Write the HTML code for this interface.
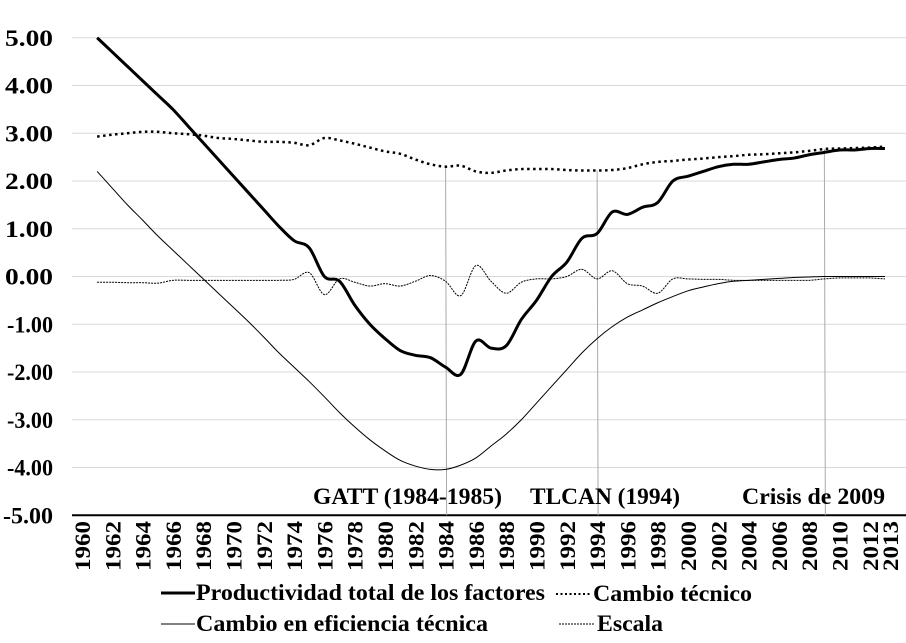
<!DOCTYPE html>
<html><head><meta charset="utf-8">
<style>
html,body{margin:0;padding:0;background:#fff;}
svg{display:block;font-family:"Liberation Serif",serif;font-weight:bold;}
</style></head>
<body>
<svg id="chart" width="906" height="643" viewBox="0 0 906 643" xmlns="http://www.w3.org/2000/svg">
<g id="grid"></g>
<g id="yticks"></g>
<g id="markers"></g>
<g font-size="23">
  <text x="313" y="504" textLength="189" lengthAdjust="spacingAndGlyphs">GATT (1984-1985)</text>
  <text x="530" y="504" textLength="150" lengthAdjust="spacingAndGlyphs">TLCAN (1994)</text>
  <text x="742" y="504" textLength="143" lengthAdjust="spacingAndGlyphs">Crisis de 2009</text>
</g>
<g id="series"></g>
<g id="xticks"></g>
<g font-size="23">
  <line x1="161" y1="593" x2="195" y2="593" stroke="#000" stroke-width="3"/>
  <text x="196" y="600" textLength="349" lengthAdjust="spacingAndGlyphs">Productividad total de los factores</text>
  <line x1="556" y1="594" x2="590" y2="594" stroke="#000" stroke-width="2" stroke-dasharray="2,2.5"/>
  <text x="593" y="601" textLength="159" lengthAdjust="spacingAndGlyphs">Cambio técnico</text>
  <line x1="161" y1="624" x2="195" y2="624" stroke="#000" stroke-width="1"/>
  <text x="196" y="631" textLength="292" lengthAdjust="spacingAndGlyphs">Cambio en eficiencia técnica</text>
  <line x1="559" y1="624" x2="594" y2="624" stroke="#000" stroke-width="1" stroke-dasharray="2,1"/>
  <text x="597" y="631" textLength="66" lengthAdjust="spacingAndGlyphs">Escala</text>
</g>
</svg>
<script>
const years = [];
for (let y = 1961; y <= 2013; y++) years.push(y);
const tfp = [5.0,4.7,4.4,4.1,3.8,3.5,3.15,2.8,2.45,2.1,1.75,1.4,1.05,0.75,0.6,0.0,-0.1,-0.6,-1.0,-1.3,-1.55,-1.65,-1.7,-1.9,-2.05,-1.35,-1.5,-1.45,-0.9,-0.5,0.0,0.3,0.8,0.9,1.35,1.3,1.45,1.55,2.0,2.1,2.2,2.3,2.35,2.35,2.4,2.45,2.48,2.55,2.6,2.65,2.65,2.68,2.68];
const tech = [2.93,2.97,3.0,3.03,3.03,3.0,2.98,2.95,2.9,2.88,2.85,2.82,2.82,2.8,2.75,2.9,2.85,2.78,2.7,2.62,2.57,2.45,2.35,2.3,2.32,2.2,2.17,2.22,2.25,2.25,2.25,2.23,2.22,2.22,2.23,2.27,2.35,2.4,2.42,2.45,2.47,2.5,2.52,2.55,2.56,2.58,2.6,2.63,2.67,2.68,2.69,2.7,2.72];
const eff = [2.2,1.85,1.5,1.18,0.85,0.55,0.25,-0.05,-0.35,-0.65,-0.95,-1.27,-1.6,-1.9,-2.2,-2.52,-2.85,-3.15,-3.42,-3.65,-3.85,-3.97,-4.04,-4.04,-3.95,-3.8,-3.55,-3.3,-3.0,-2.65,-2.3,-1.95,-1.6,-1.3,-1.05,-0.85,-0.7,-0.55,-0.42,-0.3,-0.22,-0.15,-0.1,-0.08,-0.06,-0.04,-0.02,-0.01,0,0,0,0,0];
const scale = [-0.12,-0.12,-0.13,-0.13,-0.14,-0.08,-0.08,-0.08,-0.08,-0.08,-0.08,-0.08,-0.08,-0.06,0.08,-0.38,-0.05,-0.12,-0.2,-0.15,-0.2,-0.1,0.02,-0.1,-0.4,0.23,-0.1,-0.35,-0.12,-0.05,-0.05,0.0,0.15,-0.05,0.12,-0.15,-0.2,-0.35,-0.05,-0.05,-0.06,-0.06,-0.08,-0.08,-0.08,-0.08,-0.08,-0.08,-0.05,-0.03,-0.03,-0.03,-0.05];
const yTicks = [5,4,3,2,1,0,-1,-2,-3,-4,-5];
const xLabels = [1960,1962,1964,1966,1968,1970,1972,1974,1976,1978,1980,1982,1984,1986,1988,1990,1992,1994,1996,1998,2000,2002,2004,2006,2008,2010,2012,2013];
const events = [1984,1994,2009];

const NS = "http://www.w3.org/2000/svg";
const X = yr => 82 + (yr - 1960) * 15.15;
const Y = v => 276.5 - v * 47.75;
function mk(tag, attrs, parent, txt){const e=document.createElementNS(NS,tag);for(const k in attrs)e.setAttribute(k,attrs[k]);if(txt!==undefined)e.textContent=txt;parent.appendChild(e);return e;}

const grid=document.getElementById('grid');
const l0=mk('line',{x1:72,x2:906,y1:Y(6)+0.5,y2:Y(6)+0.5,stroke:'#d9d9d9','stroke-width':1},grid);


const yt=document.getElementById('yticks');
yTicks.forEach(v=>{
  const gl=mk('line',{x1:72,x2:906,y1:Y(v),y2:Y(v),stroke:v===-5?'#000':'#d9d9d9','stroke-width':v===-5?2:1},grid);
  
  
  const t=mk('text',{x:53,y:Y(v)+8,'text-anchor':'end','font-size':23,textLength:(v===-5?50:(v<0?46:48)),lengthAdjust:'spacingAndGlyphs'},yt,v.toFixed(2));
  
  
});
const xt=document.getElementById('xticks');
xLabels.forEach((yr,i)=>{
  const extra = (i===xLabels.length-1) ? 5 : 0;
  const t=mk('text',{transform:`translate(${X(yr)+8+extra},${521}) rotate(-90)`,'text-anchor':'end','font-size':22,textLength:50,lengthAdjust:'spacingAndGlyphs'},xt,String(yr));
  
  
});
const mg=document.getElementById('markers');
events.forEach((yr)=>{
  const ln=mk('line',{x1:X(yr),x2:X(yr)+1,y1:Y(tech[yr-1961]),y2:Y(-5),stroke:'#aaa','stroke-width':1},mg);
  
  
});
function pathFor(vals){
  const p=vals.map((v,i)=>[X(years[i]),Y(v)]);
  let d=`M${p[0][0]},${p[0][1]}`;
  for(let i=0;i<p.length-1;i++){
    const p0=p[i-1]||p[i],p1=p[i],p2=p[i+1],p3=p[i+2]||p[i+1];
    d+=` C${p1[0]+(p2[0]-p0[0])/6},${p1[1]+(p2[1]-p0[1])/6} ${p2[0]-(p3[0]-p1[0])/6},${p2[1]-(p3[1]-p1[1])/6} ${p2[0]},${p2[1]}`;
  }
  return d;
}
const sg=document.getElementById('series');
const s1=mk('path',{d:pathFor(eff),fill:'none',stroke:'#000','stroke-width':1},sg);


const s2=mk('path',{d:pathFor(scale),fill:'none',stroke:'#000','stroke-width':1,'stroke-dasharray':'2,1'},sg);


const s3=mk('path',{d:pathFor(tech),fill:'none',stroke:'#000','stroke-width':2.5,'stroke-dasharray':'2.5,3.5'},sg);


const s4=mk('path',{d:pathFor(tfp),fill:'none',stroke:'#000','stroke-width':3},sg);


</script>
</body></html>
